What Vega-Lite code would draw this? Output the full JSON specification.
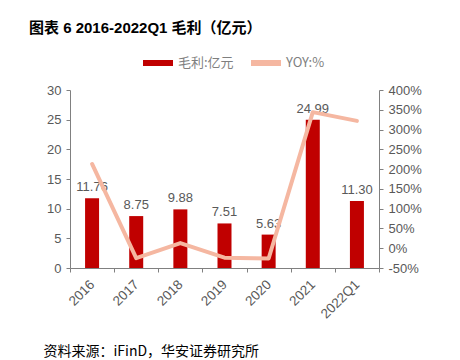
{
  "$schema": "https://vega.github.io/schema/vega-lite/v6.json",
  "width": 309,
  "height": 178,
  "autosize": {"type": "none"},
  "padding": {"left": 70, "top": 90, "right": 81, "bottom": 92},
  "background": "white",
  "title": {
    "text": "图表 6 2016-2022Q1 毛利（亿元）",
    "anchor": "start",
    "frame": "group",
    "orient": "top",
    "fontSize": 15,
    "fontWeight": "bold",
    "font": "Liberation Sans, Noto Sans CJK SC",
    "color": "#000000",
    "dx": -41,
    "offset": 12
  },
  "config": {
    "view": {"stroke": null},
    "font": "Liberation Sans, Noto Sans CJK SC",
    "axis": {
      "labelFont": "Liberation Sans",
      "labelFontSize": 13,
      "labelColor": "#595959",
      "domainColor": "#808080",
      "tickColor": "#808080",
      "tickSize": 4,
      "grid": false,
      "labelOverlap": false
    }
  },
  "data": {
    "values": [
      {"year": "2016", "profit": 11.76, "yoy": 213},
      {"year": "2017", "profit": 8.75, "yoy": -25},
      {"year": "2018", "profit": 9.88, "yoy": 13},
      {"year": "2019", "profit": 7.51, "yoy": -24},
      {"year": "2020", "profit": 5.63, "yoy": -26},
      {"year": "2021", "profit": 24.99, "yoy": 344},
      {"year": "2022Q1", "profit": 11.30, "yoy": 322}
    ]
  },
  "encoding": {
    "x": {
      "field": "year",
      "type": "nominal",
      "sort": null,
      "scale": {"paddingInner": 0, "paddingOuter": 0},
      "axis": {
        "labelAngle": -45,
        "labelAlign": "right",
        "labelBaseline": "middle",
        "labelPadding": 10,
        "labelFontSize": 13.5,
        "tickBand": "extent",
        "tickSize": 4,
        "title": "资料来源：iFinD，华安证券研究所",
        "titleFont": "Noto Sans CJK SC",
        "titleFontSize": 14,
        "titleFontWeight": "normal",
        "titleColor": "#000000",
        "titleAnchor": "start",
        "titleAlign": "left",
        "titleBaseline": "alphabetic",
        "titleX": -27,
        "titleY": 87
      }
    }
  },
  "layer": [
    {
      "encoding": {
        "y": {
          "field": "profit",
          "type": "quantitative",
          "scale": {"domain": [0, 30]},
          "axis": {"title": null, "values": [0, 5, 10, 15, 20, 25, 30], "tickCount": 7, "labelPadding": 5}
        }
      },
      "layer": [
        {
          "mark": {"type": "bar", "size": 14},
          "encoding": {
            "color": {
              "datum": "毛利:亿元",
              "type": "nominal",
              "scale": {"domain": ["毛利:亿元", "YOY:%"], "range": ["#C00000", "#F5B7A1"]},
              "legend": {
                "title": null,
                "orient": "none",
                "direction": "horizontal",
                "legendX": 73,
                "legendY": -42,
                "symbolType": "M-1,-0.2H1V0.2H-1Z",
                "symbolSize": 900,
                "symbolStrokeWidth": 0,
                "labelFont": "Noto Sans CJK SC",
                "labelFontSize": 13,
                "labelColor": "#7f7f7f",
                "columnPadding": 17,
                "labelOffset": 5,
                "padding": 0
              }
            }
          }
        },
        {
          "mark": {"type": "text", "baseline": "bottom", "dy": -4, "fontSize": 13, "color": "#595959", "font": "Liberation Sans"},
          "encoding": {
            "text": {"field": "profit", "type": "quantitative", "format": ".2f"}
          }
        }
      ]
    },
    {
      "mark": {"type": "line", "strokeWidth": 4, "strokeCap": "round", "strokeJoin": "round"},
      "encoding": {
        "y": {
          "field": "yoy",
          "type": "quantitative",
          "scale": {"domain": [-50, 400]},
          "axis": {
            "orient": "right",
            "title": null,
            "values": [-50, 0, 50, 100, 150, 200, 250, 300, 350, 400],
            "labelExpr": "datum.value + '%'",
            "labelPadding": 5
          }
        },
        "color": {"datum": "YOY:%", "type": "nominal"}
      }
    }
  ],
  "resolve": {"scale": {"y": "independent"}}
}
